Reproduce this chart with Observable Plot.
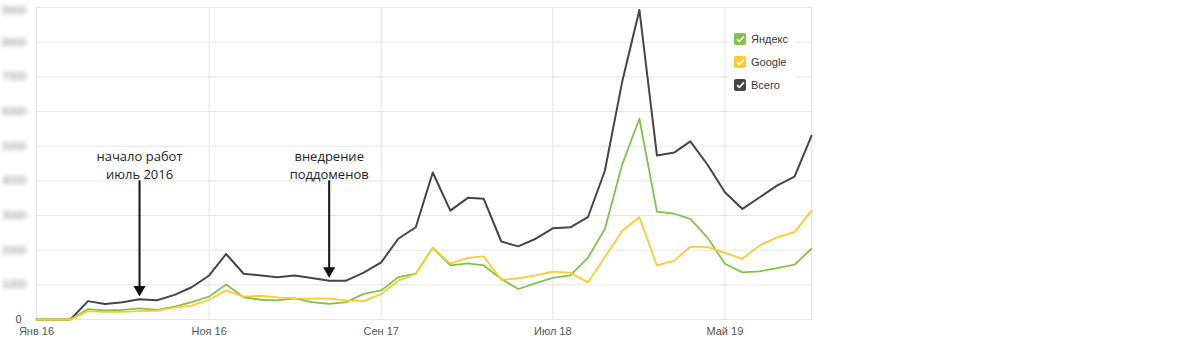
<!DOCTYPE html>
<html><head><meta charset="utf-8">
<script src="https://cdn.jsdelivr.net/npm/d3@7"></script>
<script src="https://cdn.jsdelivr.net/npm/@observablehq/plot@0.6"></script>
<style>
body{margin:0;background:#fff;}
#wrap{position:relative;width:1200px;height:354px;overflow:hidden;}
#legend{position:absolute;left:729px;top:27px;width:67px;padding:0 0 2px 0;background:#fff;font:11px "Liberation Sans",Arial,sans-serif;color:#3a3440;}
.item{display:flex;align-items:center;height:23px;}
.box{width:12px;height:12px;border-radius:2px;margin-left:5px;margin-right:5px;display:flex;align-items:center;justify-content:center;}
</style></head>
<body><div id="wrap"></div>
<script>
const months = ["2016-01","2016-02","2016-03","2016-04","2016-05","2016-06","2016-07","2016-08","2016-09","2016-10","2016-11","2016-12",
"2017-01","2017-02","2017-03","2017-04","2017-05","2017-06","2017-07","2017-08","2017-09","2017-10","2017-11","2017-12",
"2018-01","2018-02","2018-03","2018-04","2018-05","2018-06","2018-07","2018-08","2018-09","2018-10","2018-11","2018-12",
"2019-01","2019-02","2019-03","2019-04","2019-05","2019-06","2019-07","2019-08","2019-09","2019-10"];
const total = [0,0,0,530,450,500,585,556,710,930,1270,1890,
1320,1270,1220,1270,1200,1120,1120,1350,1650,2330,2660,4240,
3140,3510,3480,2250,2110,2330,2630,2660,2950,4290,6890,8930,
4730,4820,5140,4450,3670,3190,3520,3860,4120,5300];
const yandex = [0,0,0,300,260,280,320,280,370,500,660,1010,
640,570,550,610,500,450,500,740,840,1220,1320,2070,
1560,1620,1560,1170,880,1050,1200,1270,1780,2610,4490,5790,
3110,3050,2900,2350,1610,1360,1390,1480,1580,2040];
const google = [0,0,0,240,220,220,240,260,340,400,570,840,
660,680,640,610,600,600,550,530,740,1120,1320,2070,
1610,1780,1820,1140,1190,1270,1380,1350,1070,1800,2560,2950,
1560,1700,2100,2090,1920,1750,2130,2370,2520,3140];
const seriesNames = ["Яндекс","Google","Всего"];
const xTickMonths = ["2016-01","2016-11","2017-09","2018-07","2019-05"];
const xTickLabels = ["Янв 16","Ноя 16","Сен 17","Июл 18","Май 19"];
const yTicks = [0,1000,2000,3000,4000,5000,6000,7000,8000,9000];
const notes = [
  {month:"2016-07", text:"начало работ\nиюль 2016", textY:4470, from:4000, to:865},
  {month:"2017-06", text:"внедрение\nподдоменов", textY:4470, from:4000, to:1403}
];

const parse = d3.utcParse("%Y-%m");
const colors = {"Яндекс":"#80c34a","Google":"#ffc930","Всего":"#454545"};
const valuesBy = {"Яндекс":yandex,"Google":google,"Всего":total};
const rowsOf = name => months.map((m,i)=>({date:parse(m), value:valuesBy[name][i]}));
const xTickDates = xTickMonths.map(parse);
const labelMap = new Map(xTickDates.map((d,i)=>[+d, xTickLabels[i]]));

const chart = Plot.plot({
  width:1200, height:354,
  marginLeft:36, marginRight:389, marginTop:7, marginBottom:35,
  style:{fontFamily:"'Liberation Sans', Arial, sans-serif", fontSize:"11px", color:"#555", background:"#fff"},
  x:{type:"utc", domain:[parse(months[0]), parse(months[months.length-1])], label:null},
  y:{domain:[0,9000], label:null},
  marks:[
    Plot.gridY(yTicks, {stroke:"#e6e6e6", strokeOpacity:1}),
    Plot.gridX(xTickDates, {stroke:"#e6e6e6", strokeOpacity:1}),
    Plot.frame({stroke:"#e6e6e6"}),
    Plot.axisY(yTicks.slice(0,1), {tickSize:0, tickPadding:15, tickFormat:d=>String(d), fill:"#4a3f58"}),
    Plot.axisY(yTicks.slice(1,-1), {tickSize:0, tickPadding:10, tickFormat:d=>String(d), fill:"#8a8a8a"}),
    Plot.axisY(yTicks.slice(-1), {tickSize:0, tickPadding:10, dy:3, tickFormat:d=>String(d), fill:"#8a8a8a"}),
    Plot.axisX(xTickDates, {tickSize:0, tickPadding:8, tickFormat:d=>labelMap.get(+d), fill:"#555"}),
    Plot.line(rowsOf("Всего"), {x:"date", y:"value", stroke:colors["Всего"], strokeWidth:2}),
    Plot.line(rowsOf("Яндекс"), {x:"date", y:"value", stroke:colors["Яндекс"], strokeWidth:1.8}),
    Plot.line(rowsOf("Google"), {x:"date", y:"value", stroke:colors["Google"], strokeWidth:1.8}),
    Plot.ruleX(notes, {x:d=>parse(d.month), y1:"from", y2:"to", stroke:"#111", strokeWidth:2}),
    Plot.dot(notes, {x:d=>parse(d.month), y:"to", symbol:"triangle", r:4.5, rotate:180, fill:"#111", stroke:null}),
    Plot.text(notes, {x:d=>parse(d.month), y:"textY", text:"text", lineAnchor:"middle", lineHeight:1.38,
      fontFamily:"'Open Sans', sans-serif", fontSize:13, fill:"#222"})
  ]
});

// obscure the y tick values (as in the reference) except zero
chart.querySelectorAll('g[aria-label="y-axis tick label"] text').forEach(t=>{
  if (t.textContent !== "0") t.style.filter = "blur(2.2px)";
});

const wrap = document.getElementById("wrap");
wrap.appendChild(chart);

const legend = document.createElement("div");
legend.id = "legend";
seriesNames.forEach(name=>{
  const item = document.createElement("div"); item.className="item";
  const box = document.createElement("div"); box.className="box"; box.style.background = colors[name];
  box.innerHTML = '<svg width="9" height="8" viewBox="0 0 9 8"><path d="M1 4.2 L3.4 6.4 L8 1.4" fill="none" stroke="#fff" stroke-width="1.6"/></svg>';
  const lab = document.createElement("span"); lab.textContent = name;
  item.appendChild(box); item.appendChild(lab); legend.appendChild(item);
});
wrap.appendChild(legend);
</script>
</body></html>
